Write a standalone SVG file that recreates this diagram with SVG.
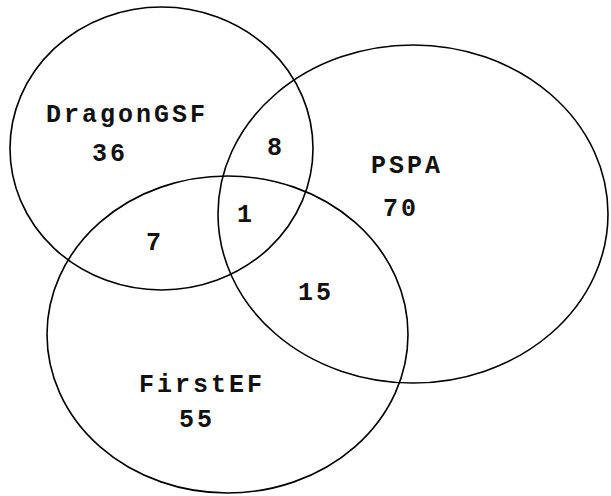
<svg xmlns="http://www.w3.org/2000/svg" width="611" height="496" viewBox="0 0 611 496">
  <style>
    .set { fill: none; stroke: #000; stroke-width: 1.6; }
    .lbl { font-family: "Liberation Mono", "Courier New", monospace; font-weight: bold; font-size: 25px; letter-spacing: 3px; fill: #111; }
  </style>
  <rect width="611" height="496" fill="#fff"/>
  <g id="dragongsf">
    <ellipse class="set" cx="161.5" cy="148.5" rx="151.5" ry="141.5"/>
    <text class="lbl" x="46" y="122">DragonGSF</text>
    <text class="lbl" x="92" y="161">36</text>
  </g>
  <g id="pspa">
    <ellipse class="set" cx="413" cy="214" rx="195" ry="169"/>
    <text class="lbl" x="371" y="173">PSPA</text>
    <text class="lbl" x="383" y="216">70</text>
  </g>
  <g id="firstef">
    <ellipse class="set" cx="227.5" cy="334.5" rx="180.5" ry="158.5"/>
    <text class="lbl" x="139" y="392">FirstEF</text>
    <text class="lbl" x="179" y="427">55</text>
  </g>
  <g id="overlaps">
    <text class="lbl" x="267" y="155">8</text>
    <text class="lbl" x="237" y="222">1</text>
    <text class="lbl" x="146" y="250">7</text>
    <text class="lbl" x="298" y="300">15</text>
  </g>
</svg>
